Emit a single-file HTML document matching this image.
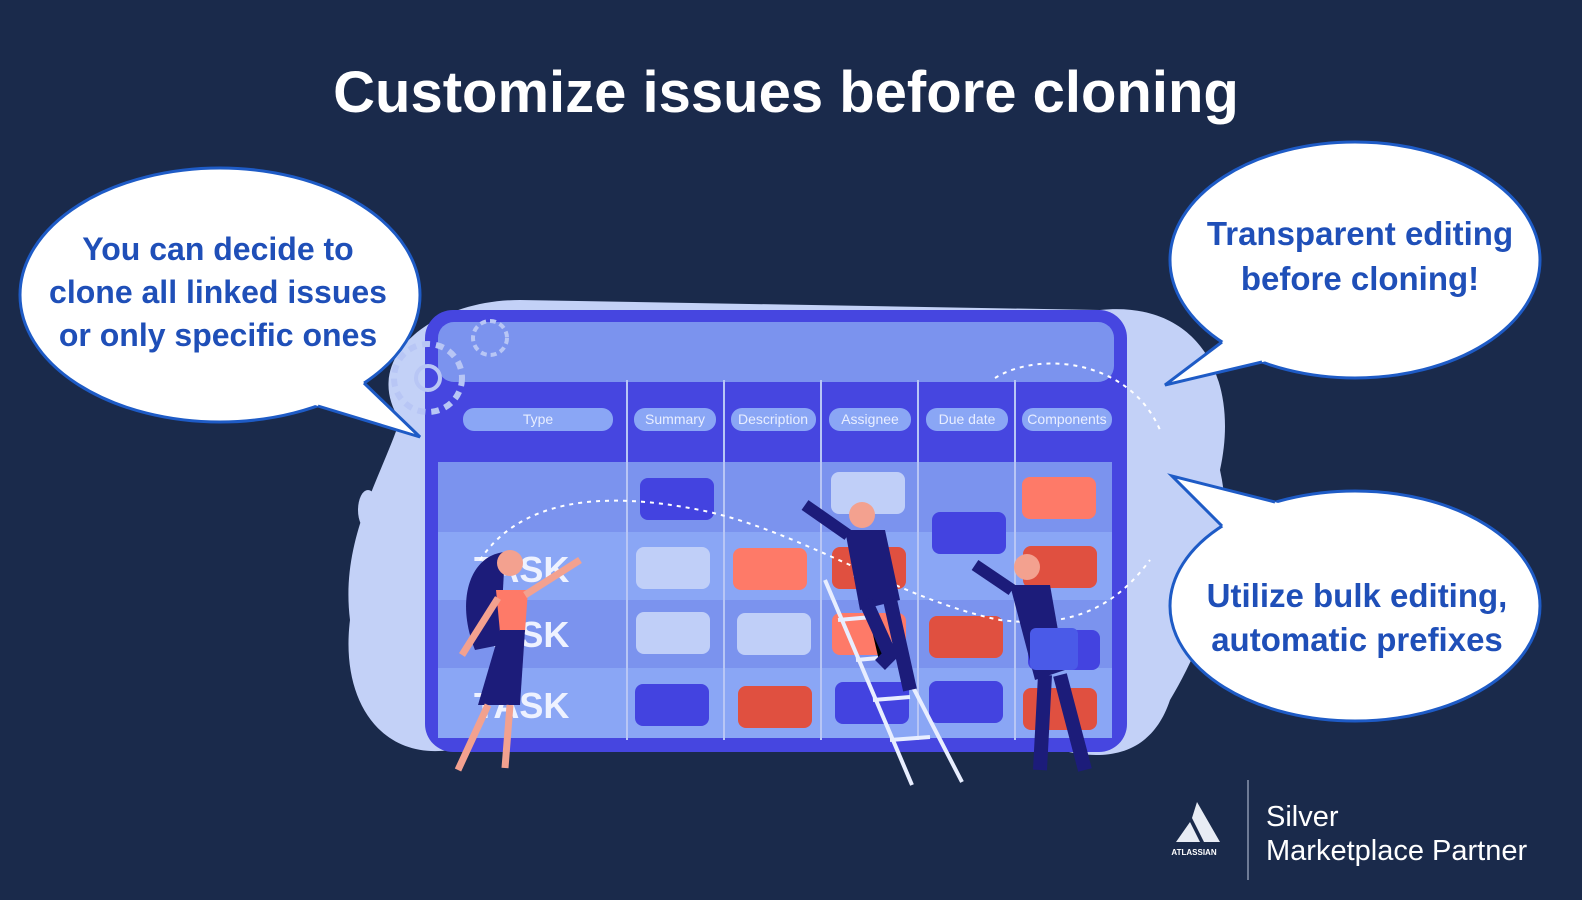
<!DOCTYPE html>
<html><head><meta charset="utf-8"><style>
html,body{margin:0;padding:0;background:#1a2a4b;}
svg{display:block}
text{font-family:"Liberation Sans",sans-serif}
</style></head><body>
<svg width="1582" height="900" viewBox="0 0 1582 900" xmlns="http://www.w3.org/2000/svg">
<rect width="1582" height="900" fill="#1a2a4b"/>
<path d="M400 420 C360 360 430 300 520 300 L1100 310 C1200 300 1240 380 1220 470 C1240 560 1200 650 1170 700 C1150 760 1100 760 1060 750 L450 750 C380 760 340 700 350 620 C340 540 380 480 400 420Z" fill="#c3d1f7"/>
<ellipse cx="368" cy="510" rx="10" ry="20" fill="#c3d1f7"/>
<rect x="425" y="310" width="702" height="442" rx="28" fill="#4646e0"/>
<rect x="438" y="322" width="676" height="60" rx="16" fill="#7b93ee"/>
<rect x="438" y="462" width="674" height="70" fill="#7b93ee"/>
<rect x="438" y="532" width="674" height="68" fill="#8aa6f5"/>
<rect x="438" y="600" width="674" height="68" fill="#7b93ee"/>
<rect x="438" y="668" width="674" height="70" fill="#8aa6f5"/>
<g stroke="#b8c6f5" stroke-width="2">
<line x1="627" y1="380" x2="627" y2="740"/><line x1="724" y1="380" x2="724" y2="740"/>
<line x1="821" y1="380" x2="821" y2="740"/><line x1="918" y1="380" x2="918" y2="740"/>
<line x1="1015" y1="380" x2="1015" y2="740"/></g>
<g fill="#8aa6f5">
<rect x="463" y="408" width="150" height="23" rx="11"/><rect x="634" y="408" width="82" height="23" rx="11"/>
<rect x="731" y="408" width="85" height="23" rx="11"/><rect x="829" y="408" width="82" height="23" rx="11"/>
<rect x="926" y="408" width="82" height="23" rx="11"/><rect x="1022" y="408" width="90" height="23" rx="11"/></g>
<g fill="#e8eeff" font-size="14" text-anchor="middle">
<text x="538" y="424">Type</text><text x="675" y="424">Summary</text><text x="773" y="424">Description</text>
<text x="870" y="424">Assignee</text><text x="967" y="424">Due date</text><text x="1067" y="424">Components</text></g>
<g fill="#eef2ff" font-size="36" font-weight="bold"><text x="474" y="582">TASK</text><text x="474" y="647">TASK</text><text x="474" y="718">TASK</text></g>
<g>
<rect x="640" y="478" width="74" height="42" rx="8" fill="#4343e0"/>
<rect x="831" y="472" width="74" height="42" rx="8" fill="#c0cff8"/>
<rect x="932" y="512" width="74" height="42" rx="8" fill="#4343e0"/>
<rect x="1022" y="477" width="74" height="42" rx="8" fill="#fe7a68"/>
<rect x="636" y="547" width="74" height="42" rx="8" fill="#c0cff8"/>
<rect x="733" y="548" width="74" height="42" rx="8" fill="#fe7a68"/>
<rect x="832" y="547" width="74" height="42" rx="8" fill="#e05040"/>
<rect x="1023" y="546" width="74" height="42" rx="8" fill="#e05040"/>
<rect x="636" y="612" width="74" height="42" rx="8" fill="#c0cff8"/>
<rect x="737" y="613" width="74" height="42" rx="8" fill="#c0cff8"/>
<rect x="832" y="613" width="74" height="42" rx="8" fill="#fe7a68"/>
<rect x="929" y="616" width="74" height="42" rx="8" fill="#e05040"/>
<rect x="1028" y="630" width="72" height="40" rx="8" fill="#4343e0"/>
<rect x="635" y="684" width="74" height="42" rx="8" fill="#4343e0"/>
<rect x="738" y="686" width="74" height="42" rx="8" fill="#e05040"/>
<rect x="835" y="682" width="74" height="42" rx="8" fill="#4343e0"/>
<rect x="929" y="681" width="74" height="42" rx="8" fill="#4343e0"/>
<rect x="1023" y="688" width="74" height="42" rx="8" fill="#e05040"/>
</g>
<path d="M480 560 C520 500 600 490 700 510 C800 530 900 600 1000 620 C1080 630 1120 600 1150 560" fill="none" stroke="#fff" stroke-width="2" stroke-dasharray="4 5"/>
<path d="M995 378 C1040 350 1130 360 1160 430" fill="none" stroke="#fff" stroke-width="2" stroke-dasharray="4 5"/>
<circle cx="428" cy="378" r="34" fill="none" stroke="#b8c6f5" stroke-width="6" stroke-dasharray="8 6"/>
<circle cx="428" cy="378" r="12" fill="none" stroke="#b8c6f5" stroke-width="4"/>
<circle cx="490" cy="338" r="17" fill="none" stroke="#b8c6f5" stroke-width="4" stroke-dasharray="6 4"/>
<g stroke="#e8eeff" stroke-width="4"><line x1="825" y1="580" x2="912" y2="785"/><line x1="855" y1="575" x2="962" y2="782"/>
<line x1="838" y1="620" x2="872" y2="617"/><line x1="856" y1="660" x2="890" y2="657"/><line x1="873" y1="700" x2="910" y2="697"/><line x1="890" y1="740" x2="930" y2="737"/></g>
<path d="M505 552 C470 555 455 600 475 650 L500 645 Z" fill="#1c1c7a"/>
<circle cx="510" cy="563" r="13" fill="#f3a18f"/>
<path d="M496 590 L528 590 L525 632 L500 632Z" fill="#fe7a68"/>
<path d="M525 595 L580 560" stroke="#f3a18f" stroke-width="7"/>
<path d="M498 598 L462 655" stroke="#f3a18f" stroke-width="7"/>
<path d="M500 630 L525 630 L520 705 L478 705Z" fill="#1c1c7a"/>
<path d="M488 705 L458 770 M510 705 L505 768" stroke="#f3a18f" stroke-width="7"/>
<circle cx="862" cy="515" r="13" fill="#f3a18f"/>
<path d="M845 530 L885 530 L900 600 L860 610Z" fill="#1c1c7a"/>
<path d="M848 535 L805 505" stroke="#1c1c7a" stroke-width="12"/>
<path d="M865 600 L890 655 L880 665 M890 600 L910 690" stroke="#1c1c7a" stroke-width="14"/>
<circle cx="1027" cy="567" r="13" fill="#f3a18f"/>
<path d="M1010 585 L1050 585 L1065 670 L1035 680Z" fill="#1c1c7a"/>
<path d="M1012 590 L975 565" stroke="#1c1c7a" stroke-width="12"/>
<rect x="1030" y="628" width="48" height="42" rx="6" fill="#4a5ae8"/>
<path d="M1045 675 L1040 770 M1060 675 L1085 770" stroke="#1c1c7a" stroke-width="14"/>
<g fill="#fff" stroke="#1e5bc6" stroke-width="3">
<ellipse cx="220" cy="295" rx="200" ry="127"/>
<ellipse cx="1355" cy="260" rx="185" ry="118"/>
<ellipse cx="1355" cy="606" rx="185" ry="115"/>
</g>
<g fill="#fff" stroke="none">
<polygon points="305,402 420,437 356,375"/>
<polygon points="1230,336 1165,385 1275,359"/>
<polygon points="1228,532 1172,476 1290,506"/>
</g>
<g fill="none" stroke="#1e5bc6" stroke-width="3">
<polyline points="318,406 420,437 364,383"/>
<polyline points="1222,342 1165,385 1262,362"/>
<polyline points="1222,526 1172,476 1275,502"/>
</g>
<g fill="#1f4fb8" font-size="32" font-weight="bold" text-anchor="middle">
<text x="218" y="260">You can decide to</text>
<text x="218" y="303">clone all linked issues</text>
<text x="218" y="346">or only specific ones</text>
</g>
<g fill="#1f4fb8" font-size="33" font-weight="bold" text-anchor="middle">
<text x="1360" y="245">Transparent editing</text>
<text x="1360" y="290">before cloning!</text>
<text x="1357" y="607">Utilize bulk editing,</text>
<text x="1357" y="651">automatic prefixes</text>
</g>
<text x="786" y="112" fill="#fff" font-size="58" font-weight="bold" text-anchor="middle">Customize issues before cloning</text>
<path d="M1197 802 L1220 842 L1204 842 L1192 818Z M1190 822 L1200 842 L1176 842Z" fill="#e8ecf4"/>
<text x="1194" y="855" fill="#fff" font-size="8" font-weight="bold" text-anchor="middle">ATLASSIAN</text>
<line x1="1248" y1="780" x2="1248" y2="880" stroke="#8a96b0" stroke-width="1.5"/>
<text x="1266" y="826" fill="#fff" font-size="29">Silver</text>
<text x="1266" y="860" fill="#fff" font-size="29">Marketplace Partner</text>
</svg>
</body></html>
